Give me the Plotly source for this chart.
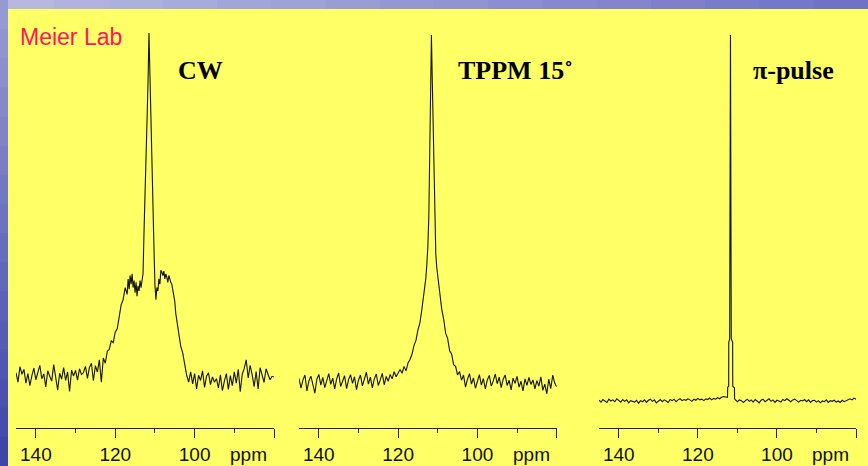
import plotly.graph_objects as go

# ---------------- data (ppm, intensity in a.u., peak = 100) ----------------
cw_spectrum = [
    (145.0, 1.2), (144.5, -1.5), (144.0, 3.0), (143.5, 0.8), (143.0, 2.2), (142.5, -1.8),
    (142.0, 1.0), (141.5, -2.5), (141.0, 0.4), (140.5, 2.6), (140.0, -0.8), (139.5, 1.6),
    (139.0, 3.4), (138.5, -0.5), (138.0, 0.9), (137.5, -2.9), (137.0, 1.8), (136.5, 0.2),
    (136.0, -1.2), (135.5, 3.6), (135.0, 0.5), (134.5, -3.8), (134.0, 1.1), (133.5, -0.6),
    (133.0, 2.7), (132.5, -1.0), (132.0, 1.5), (131.5, -4.2), (131.0, 2.0), (130.5, 0.3),
    (130.0, 1.9), (129.5, -0.9), (129.0, 2.4), (128.5, 0.7), (128.0, 1.3), (127.5, 3.1),
    (127.0, -0.4), (126.5, 2.8), (126.0, 4.0), (125.5, -1.1), (125.0, 3.3), (124.5, 1.4),
    (124.0, 5.0), (123.5, -1.5), (123.0, 5.5), (122.5, 4.0), (122.0, 7.5), (121.5, 8.0),
    (121.0, 10.5), (120.5, 10.0), (120.0, 13.0), (119.5, 14.0), (119.0, 17.5), (118.5, 21.0),
    (118.0, 22.5), (117.5, 26.0), (117.0, 24.0), (116.75, 28.5), (116.5, 25.5), (116.25, 29.5),
    (116.0, 27.0), (115.75, 30.0), (115.5, 26.0), (115.25, 28.0), (115.0, 24.5), (114.75, 27.5),
    (114.5, 23.5), (114.25, 26.5), (114.0, 25.0), (113.75, 28.0), (113.5, 26.0), (113.25, 28.5),
    (113.0, 30.0), (112.75, 42.0), (112.5, 52.0), (112.25, 64.0), (112.0, 76.0), (111.75, 85.0),
    (111.5, 100.0), (111.25, 86.0), (111.0, 76.0), (110.75, 66.0), (110.5, 52.0), (110.25, 38.0),
    (110.0, 27.0), (109.75, 22.5), (109.5, 26.0), (109.25, 25.0), (109.0, 28.5), (108.75, 27.0),
    (108.5, 31.0), (108.25, 30.5), (108.0, 29.5), (107.75, 30.8), (107.5, 28.5), (107.25, 30.0),
    (107.0, 29.0), (106.75, 27.5), (106.5, 29.5), (106.25, 28.0), (106.0, 27.5), (105.75, 27.0),
    (105.5, 25.5), (105.25, 23.5), (105.0, 22.0), (104.75, 18.5), (104.5, 16.5), (104.25, 14.0),
    (104.0, 12.0), (103.75, 10.5), (103.5, 9.0), (103.0, 7.0), (102.5, 3.5), (102.0, 0.5),
    (101.5, -1.5), (101.0, 1.5), (100.5, -2.0), (100.0, 1.0), (99.5, -3.5), (99.0, 0.5),
    (98.5, -1.0), (98.0, 1.8), (97.5, -3.0), (97.0, 0.2), (96.5, 1.2), (96.0, -2.2),
    (95.5, 0.0), (95.0, -1.5), (94.5, -0.5), (94.0, -3.2), (93.5, 0.6), (93.0, -4.0),
    (92.5, -1.2), (92.0, 1.0), (91.5, -3.6), (91.0, 0.4), (90.5, -2.5), (90.0, 1.5),
    (89.5, -1.8), (89.0, 2.2), (88.5, -4.3), (88.0, 0.8), (87.5, 2.5), (87.0, 5.0),
    (86.5, -0.3), (86.0, 3.4), (85.5, 0.6), (85.0, -2.8), (84.5, 1.6), (84.0, -3.5),
    (83.5, 2.7), (83.0, 0.3), (82.5, -1.6), (82.0, 2.4), (81.5, 1.0), (81.0, -0.8),
    (80.5, 0.2), (80.0, 0.0),
]

tppm_spectrum = [
    (145.0, 1.0), (144.5, -1.8), (144.0, 0.6), (143.5, 2.0), (143.0, -2.6), (142.5, 0.3),
    (142.0, 1.7), (141.5, -1.0), (141.0, -3.2), (140.5, 0.8), (140.0, 2.2), (139.5, -0.9),
    (139.0, 1.3), (138.5, -1.6), (138.0, 0.4), (137.5, 2.4), (137.0, -0.7), (136.5, 1.1),
    (136.0, -2.0), (135.5, 0.9), (135.0, 2.6), (134.5, -1.3), (134.0, 0.2), (133.5, 1.8),
    (133.0, -1.9), (132.5, 0.7), (132.0, 2.1), (131.5, -0.4), (131.0, 1.5), (130.5, -2.2),
    (130.0, 0.5), (129.5, 2.0), (129.0, -1.1), (128.5, 1.2), (128.0, 2.8), (127.5, -0.6),
    (127.0, 1.4), (126.5, -1.7), (126.0, 0.9), (125.5, 2.3), (125.0, -1.0), (124.5, 0.6),
    (124.0, 2.5), (123.5, -0.8), (123.0, 1.6), (122.5, 0.2), (122.0, 2.2), (121.5, 0.9),
    (121.0, 3.0), (120.5, 1.5), (120.0, 2.4), (119.5, 3.6), (119.0, 2.5), (118.5, 4.5),
    (118.0, 3.2), (117.5, 5.5), (117.0, 6.5), (116.5, 8.0), (116.0, 10.5), (115.5, 12.0),
    (115.0, 15.0), (114.5, 17.0), (114.0, 21.0), (113.5, 25.0), (113.0, 30.0), (112.75, 34.0),
    (112.5, 39.0), (112.25, 48.0), (112.0, 67.0), (111.8, 84.0), (111.6, 100.0), (111.4, 88.0),
    (111.2, 75.0), (111.0, 66.0), (110.75, 47.0), (110.5, 37.0), (110.25, 33.0), (110.0, 30.5),
    (109.5, 26.5), (109.0, 21.0), (108.5, 18.0), (108.0, 14.0), (107.5, 12.5), (107.0, 9.0),
    (106.5, 8.0), (106.0, 5.0), (105.5, 4.5), (105.0, 2.0), (104.5, 3.0), (104.0, 0.5),
    (103.5, 2.0), (103.0, -1.5), (102.5, 0.8), (102.0, 2.4), (101.5, -0.6), (101.0, 1.2),
    (100.5, -1.8), (100.0, 0.4), (99.5, 2.1), (99.0, -0.9), (98.5, 1.0), (98.0, -2.0),
    (97.5, 0.6), (97.0, 1.9), (96.5, -1.2), (96.0, 0.3), (95.5, 2.3), (95.0, -0.5),
    (94.5, 1.4), (94.0, -1.6), (93.5, 0.8), (93.0, 2.0), (92.5, -1.0), (92.0, 0.5),
    (91.5, -2.3), (91.0, 1.1), (90.5, -0.4), (90.0, 1.6), (89.5, -1.5), (89.0, 0.2),
    (88.5, -2.6), (88.0, 0.9), (87.5, -1.0), (87.0, 1.3), (86.5, -0.7), (86.0, 0.6),
    (85.5, -2.0), (85.0, 0.4), (84.5, -1.2), (84.0, 1.5), (83.5, -2.4), (83.0, -0.6),
    (82.5, -3.4), (82.0, 0.8), (81.5, -1.9), (81.0, 2.0), (80.5, -0.3), (80.0, -1.4),
]

pi_spectrum = [
    (145.0, 0.2), (144.5, -0.3), (144.0, 0.4), (143.5, 0.1), (143.0, -0.4), (142.5, 0.5),
    (142.0, 0.0), (141.5, 0.3), (141.0, -0.2), (140.5, 0.6), (140.0, 0.2), (139.5, -0.3),
    (139.0, 0.4), (138.5, -0.1), (138.0, 0.3), (137.5, -0.5), (137.0, 0.1), (136.5, 0.0),
    (136.0, -0.3), (135.5, 0.2), (135.0, -0.6), (134.5, 0.1), (134.0, -0.2), (133.5, 0.3),
    (133.0, -0.4), (132.5, 0.2), (132.0, 0.5), (131.5, -0.1), (131.0, 0.3), (130.5, -0.5),
    (130.0, 0.1), (129.5, 0.4), (129.0, -0.2), (128.5, 0.3), (128.0, 0.0), (127.5, -0.4),
    (127.0, 0.4), (126.5, 0.1), (126.0, 0.5), (125.5, -0.2), (125.0, 0.3), (124.5, 0.6),
    (124.0, 0.1), (123.5, 0.4), (123.0, 0.2), (122.5, 0.6), (122.0, 0.3), (121.5, -0.1),
    (121.0, 0.5), (120.5, 0.2), (120.0, 0.7), (119.5, 0.3), (119.0, 0.5), (118.5, 0.1),
    (118.0, 0.6), (117.5, 0.4), (117.0, 0.8), (116.5, 0.3), (116.0, 0.7), (115.5, 0.5),
    (115.0, 0.9), (114.5, 0.6), (114.0, 1.0), (113.5, 1.2), (113.0, 1.1), (112.5, 1.0),
    (112.45, 3.8), (112.2, 4.0), (112.18, 16.0), (111.95, 17.0), (111.75, 100.0), (111.55, 17.0),
    (111.2, 16.0), (111.17, 4.0), (110.75, 3.6), (110.7, 0.6), (110.5, 0.3), (110.0, -0.2),
    (109.5, 0.3), (109.0, 0.1), (108.5, -0.4), (108.0, 0.2), (107.5, 0.5), (107.0, -0.1),
    (106.5, 0.3), (106.0, -0.3), (105.5, 0.4), (105.0, 0.0), (104.5, -0.5), (104.0, 0.2),
    (103.5, 0.5), (103.0, -0.2), (102.5, 0.1), (102.0, 0.6), (101.5, -0.1), (101.0, 0.3),
    (100.5, -0.4), (100.0, 0.2), (99.5, 0.0), (99.0, -0.3), (98.5, 0.4), (98.0, 0.1),
    (97.5, 0.6), (97.0, 0.2), (96.5, -0.2), (96.0, 0.3), (95.5, 0.5), (95.0, 0.1),
    (94.5, -0.3), (94.0, 0.2), (93.5, 0.0), (93.0, 0.4), (92.5, -0.2), (92.0, 0.3),
    (91.5, -0.4), (91.0, 0.1), (90.5, 0.2), (90.0, -0.3), (89.5, 0.1), (89.0, -0.5),
    (88.5, 0.0), (88.0, -0.2), (87.5, 0.3), (87.0, -0.4), (86.5, 0.1), (86.0, -0.1),
    (85.5, 0.2), (85.0, -0.3), (84.5, 0.0), (84.0, -0.4), (83.5, 0.2), (83.0, -0.2),
    (82.5, 0.1), (82.0, 0.4), (81.5, 0.6), (81.0, 0.3), (80.5, 0.8), (80.0, 0.5),
]

panel_titles = ["<b>CW</b>", "<b>TPPM 15˚</b>", "<b>π-pulse</b>"]
major_ticks = [140, 120, 100, 80]
major_labels = ["140", "120", "100", ""]
minor_ticks = [130, 110, 90]
ppm_range = [145, 80]
unit_label = "ppm"
unit_label_pos = 86.4
watermark = "Meier Lab"

# ---------------- figure ----------------
W, H = 868, 466
spectra = [cw_spectrum, tppm_spectrum, pi_spectrum]
x_domains = [[16 / W, 274 / W], [299 / W, 556.7 / W], [599 / W, 856 / W]]
y_ranges = [[-14.83, 106.98], [-13.26, 107.49], [-7.38, 107.1]]
y_domain = [38 / H, 457 / H]
title_x = [176, 456, 751]

fig = go.Figure()
layout = dict(
    width=W, height=H,
    margin=dict(l=0, r=0, t=0, b=0),
    paper_bgcolor="#FFFF66",
    plot_bgcolor="rgba(0,0,0,0)",
    showlegend=False,
    annotations=[],
    shapes=[],
)

tick_font = dict(family="Liberation Sans, Arial, sans-serif", size=19, color="#111111")

for i, spec in enumerate(spectra):
    sfx = "" if i == 0 else str(i + 1)
    ppm = [p for p, _ in spec]
    inten = [v for _, v in spec]
    fig.add_trace(go.Scatter(
        x=ppm, y=inten, mode="lines",
        line=dict(color="#141414", width=1.1),
        xaxis="x" + sfx, yaxis="y" + sfx, hoverinfo="skip",
    ))
    layout["xaxis" + sfx] = dict(
        domain=x_domains[i], range=ppm_range, anchor="y" + sfx,
        showgrid=False, zeroline=False,
        showline=True, linecolor="#222222", linewidth=1,
        tickmode="array", tickvals=major_ticks, ticktext=major_labels,
        ticks="outside", ticklen=9, tickwidth=1, tickcolor="#222222",
        tickfont=tick_font,
        minor=dict(tickmode="array", tickvals=minor_ticks, ticks="outside",
                   ticklen=4, tickwidth=1, tickcolor="#222222", showgrid=False),
    )
    layout["yaxis" + sfx] = dict(
        domain=y_domain, range=y_ranges[i], anchor="x" + sfx, visible=False,
        showgrid=False, zeroline=False,
    )
    layout["annotations"].append(dict(
        x=unit_label_pos, xref="x" + sfx, y=1 - 454 / H, yref="paper",
        text=unit_label, showarrow=False, xanchor="center", yanchor="middle",
        font=tick_font,
    ))
    layout["annotations"].append(dict(
        x=title_x[i] / W, xref="paper", y=1 - 70 / H, yref="paper",
        text=panel_titles[i], showarrow=False, xanchor="left", yanchor="middle",
        font=dict(family="Liberation Serif, Times New Roman, serif", size=26, color="#000000"),
    ))

layout["annotations"].append(dict(
    x=18 / W, xref="paper", y=1 - 37 / H, yref="paper", text=watermark,
    showarrow=False, xanchor="left", yanchor="middle",
    font=dict(family="Liberation Sans, Arial, sans-serif", size=23, color="#FF1464"),
))

# decorative slide border: top lavender strip and left blue strip
def mix(c1, c2, t):
    return "#%02x%02x%02x" % tuple(int(round(a + (b - a) * t)) for a, b in zip(c1, c2))

n = 16
for k in range(n):
    layout["shapes"].append(dict(
        type="rect", xref="paper", yref="paper",
        x0=k / n, x1=(k + 1) / n + 0.002, y0=1 - 9 / H, y1=1,
        fillcolor=mix((182, 184, 224), (112, 114, 200), k / (n - 1)), line=dict(width=0),
    ))
for k in range(n):
    layout["shapes"].append(dict(
        type="rect", xref="paper", yref="paper",
        x0=0, x1=8 / W, y0=1 - (k + 1) / n - 0.002, y1=1 - k / n,
        fillcolor=mix((150, 154, 210), (62, 70, 170), k / (n - 1)), line=dict(width=0),
    ))

fig.update_layout(**layout)
fig.write_html(
    "out.html",
    config={"displayModeBar": False, "staticPlot": True},
    post_script="document.body.style.margin='0';document.body.style.overflow='hidden';",
)
